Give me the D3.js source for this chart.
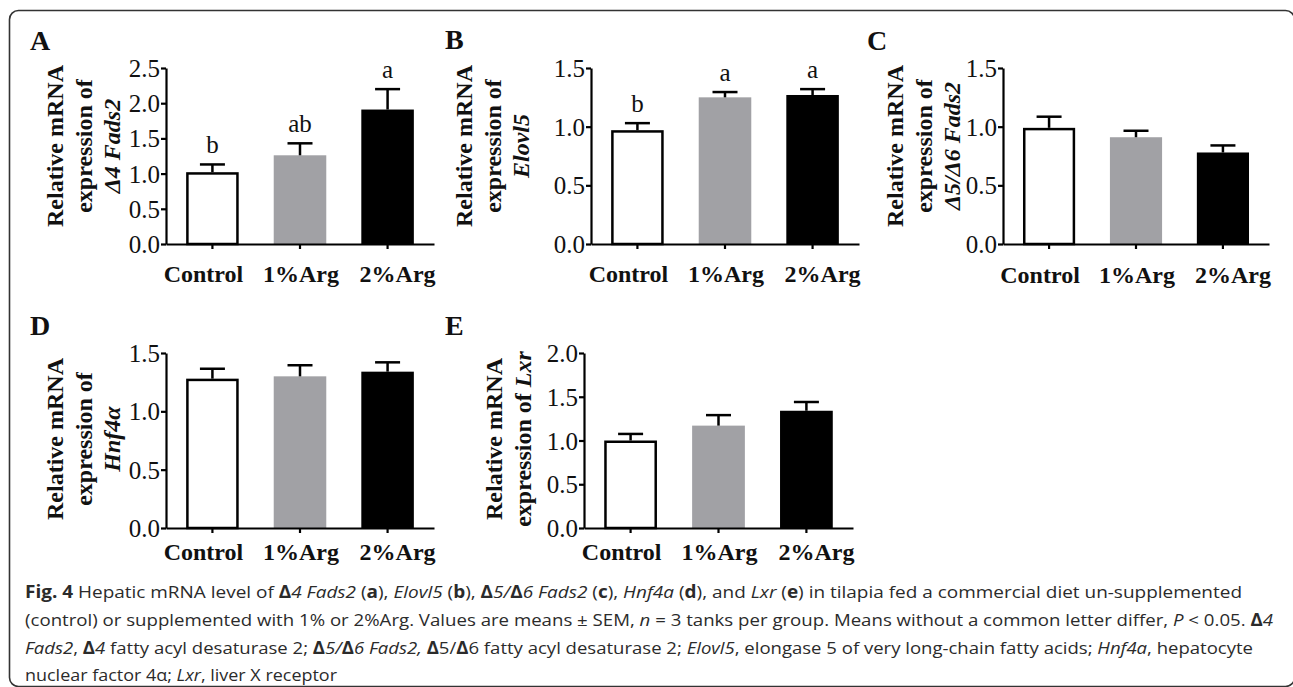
<!DOCTYPE html>
<html><head><meta charset="utf-8">
<script src="https://cdn.jsdelivr.net/npm/d3@7"></script>
<style>body{margin:0;background:#fff} svg{display:block} text{white-space:pre}</style>
</head><body><svg id="c" width="1293" height="687"></svg>
<script>
// ---------- DATA ----------
const categories = ["Control", "1%Arg", "2%Arg"];

const meansA = [1.02, 1.26, 1.91];
const semA   = [0.11, 0.17, 0.29];
const lettersA = ["b", "ab", "a"];
const ticksA = [0, 0.5, 1.0, 1.5, 2.0, 2.5];

const meansB = [0.97, 1.25, 1.27];
const semB   = [0.06, 0.045, 0.05];
const lettersB = ["b", "a", "a"];
const ticksB = [0, 0.5, 1.0, 1.5];

const meansC = [0.99, 0.91, 0.78];
const semC   = [0.095, 0.055, 0.06];
const ticksC = [0, 0.5, 1.0, 1.5];

const meansD = [1.28, 1.30, 1.34];
const semD   = [0.085, 0.095, 0.08];
const ticksD = [0, 0.5, 1.0, 1.5];

const meansE = [1.00, 1.17, 1.34];
const semE   = [0.075, 0.12, 0.10];
const ticksE = [0, 0.5, 1.0, 1.5, 2.0];

const titleA = [[{t:"Relative mRNA"}],[{t:"expression of"}],[{t:"Δ4 Fads2",i:1}]];
const titleB = [[{t:"Relative mRNA"}],[{t:"expression of"}],[{t:"Elovl5",i:1}]];
const titleC = [[{t:"Relative mRNA"}],[{t:"expression of"}],[{t:"Δ5/Δ6 Fads2",i:1}]];
const titleD = [[{t:"Relative mRNA"}],[{t:"expression of"}],[{t:"Hnf4α",i:1}]];
const titleE = [[{t:"Relative mRNA"}],[{t:"expression of "},{t:"Lxr",i:1}]];

const captionLines = [
 [{t:"Fig. 4",b:1},{t:" Hepatic mRNA level of "},{t:"Δ",b:1},{t:"4 Fads2",i:1},{t:" ("},{t:"a",b:1},{t:"), "},{t:"Elovl5",i:1},{t:" ("},{t:"b",b:1},{t:"), "},{t:"Δ",b:1},{t:"5/",i:1},{t:"Δ",b:1},{t:"6 Fads2",i:1},{t:" ("},{t:"c",b:1},{t:"), "},{t:"Hnf4a",i:1},{t:" ("},{t:"d",b:1},{t:"), and "},{t:"Lxr",i:1},{t:" ("},{t:"e",b:1},{t:") in tilapia fed a commercial diet un-supplemented"}],
 [{t:"(control) or supplemented with 1% or 2%Arg. Values are means ± SEM, "},{t:"n",i:1},{t:" = 3 tanks per group. Means without a common letter differ, "},{t:"P",i:1},{t:" < 0.05. "},{t:"Δ",b:1},{t:"4",i:1}],
 [{t:"Fads2",i:1},{t:", "},{t:"Δ",b:1},{t:"4",i:1},{t:" fatty acyl desaturase 2; "},{t:"Δ",b:1},{t:"5/",i:1},{t:"Δ",b:1},{t:"6 Fads2,",i:1},{t:" "},{t:"Δ",b:1},{t:"5/"},{t:"Δ",b:1},{t:"6 fatty acyl desaturase 2; "},{t:"Elovl5",i:1},{t:", elongase 5 of very long-chain fatty acids; "},{t:"Hnf4a",i:1},{t:", hepatocyte"}],
 [{t:"nuclear factor 4α; "},{t:"Lxr",i:1},{t:", liver X receptor"}]
];

// ---------- LAYOUT / STYLE ----------
const panels = [
 {id:"A", means:meansA, sem:semA, letters:lettersA, ticks:ticksA, max:2.5, title:titleA,
  axisX:166, y0:244, yTop:68, len:268, labelY:282, letterX:30, letterY:50, titleX:63, titleCY:146},
 {id:"B", means:meansB, sem:semB, letters:lettersB, ticks:ticksB, max:1.5, title:titleB,
  axisX:591, y0:244, yTop:68, len:268, labelY:282, letterX:445, letterY:49, titleX:472, titleCY:146},
 {id:"C", means:meansC, sem:semC, letters:null, ticks:ticksC, max:1.5, title:titleC,
  axisX:1003, y0:244, yTop:68, len:266, labelY:283, letterX:867, letterY:50, titleX:903, titleCY:146},
 {id:"D", means:meansD, sem:semD, letters:null, ticks:ticksD, max:1.5, title:titleD,
  axisX:166, y0:528, yTop:353, len:268, labelY:560, letterX:30, letterY:335, titleX:63, titleCY:439},
 {id:"E", means:meansE, sem:semE, letters:null, ticks:ticksE, max:2.0, title:titleE,
  axisX:584, y0:528, yTop:353, len:269, labelY:560, letterX:445, letterY:335, titleX:502, titleCY:439}
];
const fills = ["#ffffff", "#a1a1a5", "#000000"];
const labelShift = [-9, 1, 10];
const serif = "'Liberation Serif','Times New Roman',serif";
const sans = "'Open Sans','Noto Sans',sans-serif";

const svg = d3.select("#c");
svg.append("rect").attr("width",1293).attr("height",687).attr("fill","#fff");
svg.append("rect").attr("x",9.5).attr("y",10.5).attr("width",1285).attr("height",676)
  .attr("rx",9).attr("fill","none").attr("stroke","#333").attr("stroke-width",1.6);

panels.forEach(p => {
  const g = svg.append("g");
  const x = d3.scaleBand().domain(categories).range([p.axisX, p.axisX + p.len])
    .paddingInner(0.4).paddingOuter(0.23);
  const y = d3.scaleLinear().domain([0, p.max]).range([p.y0, p.yTop]);

  g.selectAll("rect.bar").data(categories).join("rect")
    .attr("x", (d,i) => x(d) + (i===0 ? 1.25 : 0))
    .attr("width", (d,i) => x.bandwidth() - (i===0 ? 2.5 : 0))
    .attr("y", (d,i) => y(p.means[i]) + (i===0 ? 1.25 : 0))
    .attr("height", (d,i) => y(0) - y(p.means[i]) - (i===0 ? 1.25 : 0))
    .attr("fill", (d,i) => fills[i])
    .attr("stroke", (d,i) => i===0 ? "#000" : "none")
    .attr("stroke-width", 2.5);

  categories.forEach((c,i) => {
    const cx = x(c) + x.bandwidth()/2;
    const top = y(p.means[i] + p.sem[i]);
    g.append("line").attr("x1",cx).attr("x2",cx).attr("y1",y(p.means[i])).attr("y2",top)
      .attr("stroke","#000").attr("stroke-width",2.5);
    g.append("line").attr("x1",cx-12.5).attr("x2",cx+12.5).attr("y1",top).attr("y2",top)
      .attr("stroke","#000").attr("stroke-width",2.5);
    if (p.letters) {
      g.append("text").attr("x",cx).attr("y",top-11).attr("text-anchor","middle")
        .attr("font-family",serif).attr("font-size",25).attr("fill","#111").text(p.letters[i]);
    }
  });

  const ya = g.append("g").attr("transform",`translate(${p.axisX},0)`)
    .call(d3.axisLeft(y).tickValues(p.ticks).tickFormat(d3.format(".1f")).tickSize(5).tickSizeOuter(0).tickPadding(1));
  ya.select(".domain").attr("stroke","#000").attr("stroke-width",2.2);
  ya.selectAll(".tick line").attr("stroke","#000").attr("stroke-width",2.2);
  ya.selectAll(".tick text").attr("font-family",serif).attr("font-size",25).attr("fill","#111").attr("dy","0.34em");

  const xa = g.append("g").attr("transform",`translate(0,${p.y0})`)
    .call(d3.axisBottom(x).tickSize(5).tickSizeOuter(0).tickFormat(""));
  xa.select(".domain").attr("stroke","#000").attr("stroke-width",2.2);
  xa.selectAll(".tick line").attr("stroke","#000").attr("stroke-width",2.2);

  g.selectAll("text.xl").data(categories).join("text").attr("class","xl")
    .attr("x",(d,i) => x(d) + x.bandwidth()/2 + labelShift[i]).attr("y",p.labelY)
    .attr("text-anchor","middle").attr("font-family",serif).attr("font-weight","bold")
    .attr("font-size",24).attr("fill","#111").text(d => d);

  g.append("text").attr("x",p.letterX).attr("y",p.letterY).attr("font-family",serif)
    .attr("font-weight","bold").attr("font-size",28).attr("fill","#111").text(p.id);

  p.title.forEach((line, li) => {
    const t = g.append("text")
      .attr("transform",`translate(${p.titleX + li*28.5},${p.titleCY}) rotate(-90)`)
      .attr("text-anchor","middle").attr("font-family",serif).attr("font-weight","bold")
      .attr("font-size",24).attr("fill","#111");
    line.forEach(s => t.append("tspan").attr("font-style", s.i ? "italic" : "normal").text(s.t));
  });
});

// caption
const capBase = [598, 626, 654, 681];
const capWidth = [1217, 1248, 1228, 312];
captionLines.forEach((segs, i) => {
  const t = svg.append("text").attr("x",25).attr("y",capBase[i]).attr("font-family",sans)
    .attr("font-size",17).attr("fill","#2b2b2b")
    .attr("textLength",capWidth[i]).attr("lengthAdjust","spacingAndGlyphs");
  segs.forEach(s => t.append("tspan")
    .attr("font-weight", s.b ? "bold" : "normal")
    .attr("font-style", s.i ? "italic" : "normal").text(s.t));
});
</script></body></html>
